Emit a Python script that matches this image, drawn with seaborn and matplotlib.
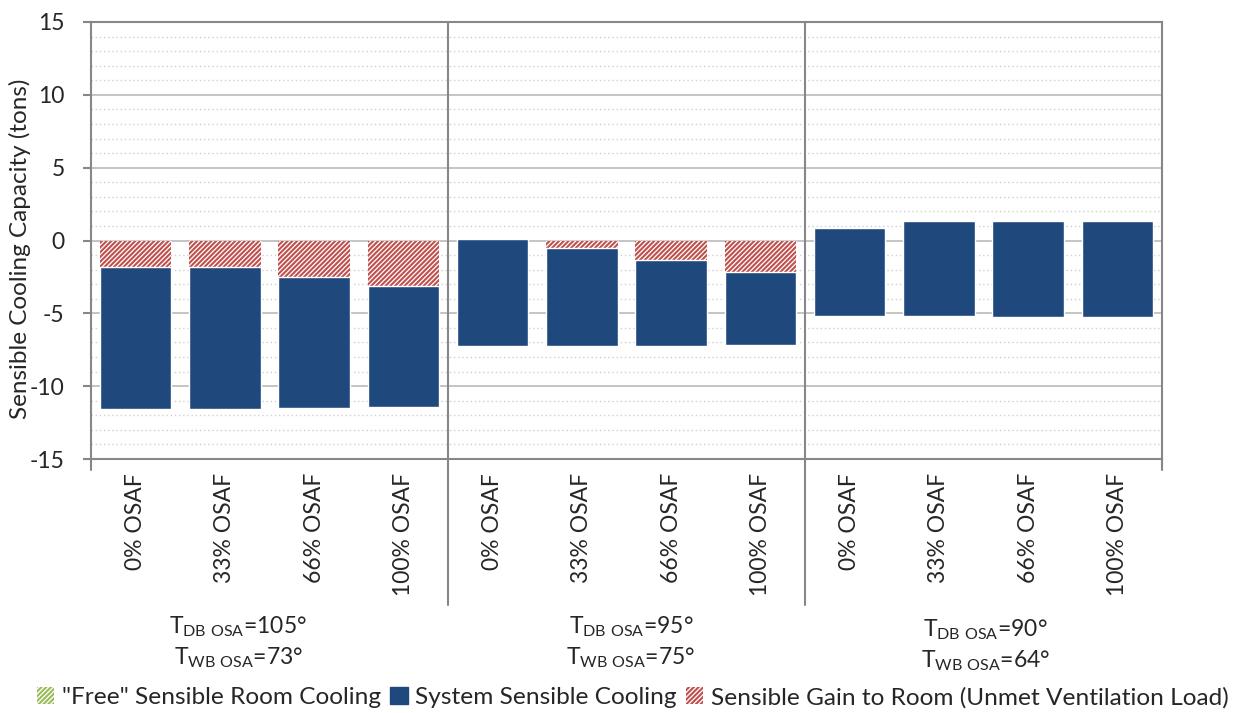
import numpy as np
import pandas as pd
import seaborn as sns
import matplotlib.pyplot as plt
from matplotlib.patches import Patch
from matplotlib.ticker import MultipleLocator
import matplotlib.transforms as mtransforms

# datos
osaf = ['0% OSAF', '33% OSAF', '66% OSAF', '100% OSAF'] * 3
conditions = ['$T_{DB\\ OSA}$=105°\n$T_{WB\\ OSA}$=73°',
              '$T_{DB\\ OSA}$=95°\n$T_{WB\\ OSA}$=75°',
              '$T_{DB\\ OSA}$=90°\n$T_{WB\\ OSA}$=64°']
system_top = [-1.84, -1.80, -2.48, -3.10, 0.10, -0.49, -1.36, -2.16, 0.88, 1.36, 1.34, 1.32]
system_bottom = [-11.59, -11.54, -11.50, -11.45, -7.22, -7.24, -7.22, -7.17, -5.18, -5.18, -5.23, -5.27]
unmet_gain = [-1.84, -1.80, -2.48, -3.10, 0.0, -0.49, -1.36, -2.16, 0.0, 0.0, 0.0, 0.0]
free_cooling = [0.0] * 12

ids = [f'{i}' for i in range(12)]
df = pd.DataFrame({'id': ids,
                   'system': np.array(system_top) - np.array(system_bottom),
                   'unmet': unmet_gain,
                   'free': free_cooling})

sns.set_style('white')
plt.rcParams['font.family'] = ['Lato', 'DejaVu Sans']
plt.rcParams['mathtext.fontset'] = 'custom'
plt.rcParams['mathtext.rm'] = 'Lato'
plt.rcParams['mathtext.default'] = 'regular'
plt.rcParams['hatch.linewidth'] = 1.5
plt.rcParams['axes.unicode_minus'] = False

blue = '#1F497D'
red = '#C0504D'
green = '#9BBB59'
fs = 16.5
hatch = '///////'

fig = plt.figure(figsize=(12.36, 7.13), dpi=100)
ax = fig.add_axes([91 / 1236, 1 - 459 / 713, (1162 - 91) / 1236, (459 - 22) / 713])

sns.barplot(data=df, x='id', y='free', order=ids, color='white', width=0.8,
            errorbar=None, ax=ax)
sns.barplot(data=df, x='id', y='unmet', order=ids, color='white', width=0.8,
            errorbar=None, ax=ax)
for p in ax.containers[-1]:
    p.set_hatch(hatch)
    p.set_edgecolor(red)
    p.set_linewidth(0)
sns.barplot(data=df, x='id', y='system', order=ids, color=blue, width=0.8,
            errorbar=None, bottom=system_bottom, ax=ax, saturation=1)

ax.set_ylim(-15, 15)
ax.set_xlim(-0.5, 11.5)
ax.set_yticks(range(-15, 16, 5))
ax.yaxis.set_minor_locator(MultipleLocator(1))
ax.set_axisbelow(True)
ax.grid(axis='y', which='major', color='#BFBFBF', linewidth=1.3)
ax.grid(axis='y', which='minor', color='#D0D0D0', linewidth=1.0, linestyle=(0, (1, 2)))
for s in ax.spines.values():
    s.set_color('#878787')
    s.set_linewidth(1.5)

ax.set_xticks(range(12))
ax.set_xticklabels(osaf, rotation=90, fontsize=fs)
ax.tick_params(axis='x', length=0, pad=10)
ax.tick_params(axis='y', which='major', labelsize=fs, length=6, color='#878787', width=1.5,
               left=True, pad=13)
ax.tick_params(axis='y', which='minor', length=0)
ax.set_xlabel('')
ax.set_ylabel('Sensible Cooling Capacity (tons)', fontsize=17.5)
ax.yaxis.set_label_coords(-0.056, 0.48)

trans = mtransforms.blended_transform_factory(ax.transData, ax.transAxes)
for xpos in [3.5, 7.5]:
    ax.plot([xpos, xpos], [1, -0.334], transform=trans, color='#878787', lw=1.5, clip_on=False)
for xpos in [-0.5, 11.5]:
    ax.plot([xpos, xpos], [0, -0.025], transform=trans, color='#878787', lw=1.5, clip_on=False)

for xpos, ypos, txt in zip([1.15, 5.55, 9.52], [-0.355, -0.355, -0.363], conditions):
    ax.text(xpos, ypos, txt, transform=trans, ha='center', va='top', fontsize=fs,
            linespacing=1.35)

handles = [Patch(facecolor='white', edgecolor=green, hatch=hatch, linewidth=0),
           Patch(facecolor=blue, edgecolor=blue),
           Patch(facecolor='white', edgecolor=red, hatch=hatch, linewidth=0)]
labels = ['"Free" Sensible Room Cooling', 'System Sensible Cooling',
          'Sensible Gain to Room (Unmet Ventilation Load)']
fig.legend(handles, labels, loc='lower center', bbox_to_anchor=(0.512, -0.024), ncol=3,
           frameon=False, fontsize=17.6, handlelength=0.7, handleheight=0.7,
           handletextpad=0.3, columnspacing=0.4)

fig.savefig('out.png', dpi=100)
